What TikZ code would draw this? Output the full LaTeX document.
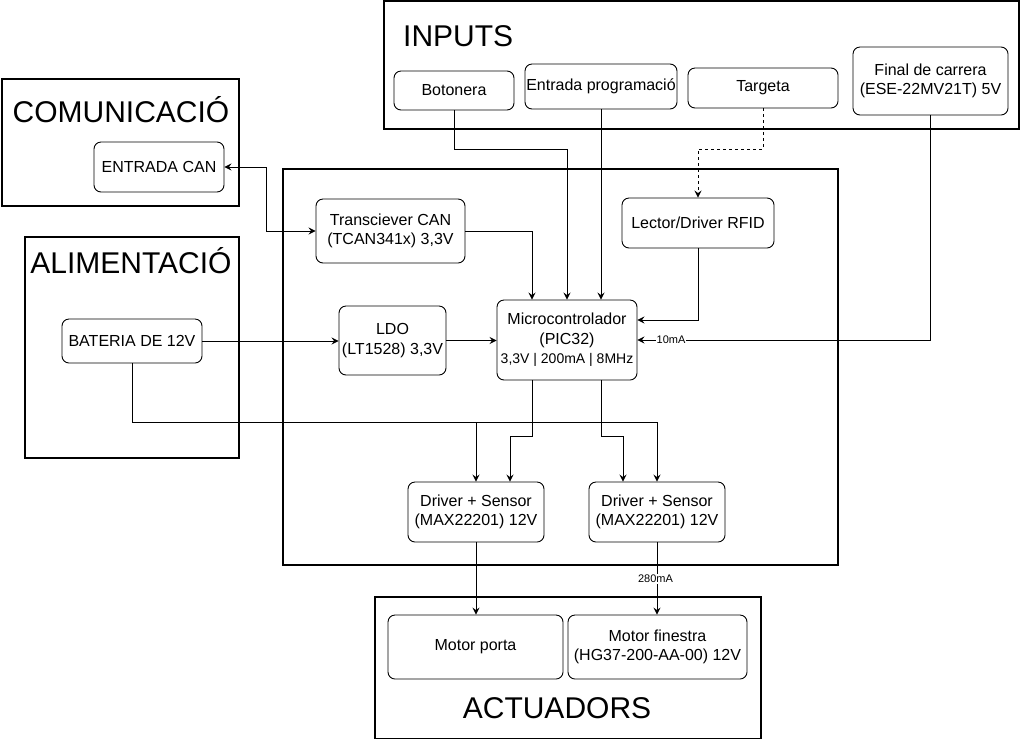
\documentclass[tikz,border=0pt]{standalone}
\usepackage{fontspec}
\setmainfont{Liberation Sans}
\usetikzlibrary{arrows.meta}
\newcommand\fsNode{\fontsize{16}{19.5}\selectfont}
\newcommand\fsSmall{\fontsize{14}{19}\selectfont}
\newcommand\fsTitle{\fontsize{30}{36}\selectfont}
\newcommand\fsLbl{\fontsize{11}{12}\selectfont}
\begin{document}
\begin{tikzpicture}[x=1pt,y=-1pt,
  box/.style={draw, line width=0.9pt, rounded corners=7pt, fill=white, align=center, inner sep=0pt, font=\fsNode},
  container/.style={draw, line width=1.8pt},
  title/.style={inner sep=0pt, font=\fsTitle},
  conn/.style={draw, line width=0.9pt, -{Stealth[length=7pt,width=7pt,inset=2.5pt]}},
  conn2/.style={draw, line width=0.9pt, {Stealth[length=7pt,width=7pt,inset=2.5pt]}-{Stealth[length=7pt,width=7pt,inset=2.5pt]}},
  lbl/.style={fill=white, inner sep=1pt, font=\fsLbl}]
\useasboundingbox (0,0) rectangle (1022,740);
\fill[white] (0,0) rectangle (1022,740);

% containers
\draw[container] (384,1) rectangle (1019,129);
\draw[container] (2,79) rectangle (239,206);
\draw[container] (25,237) rectangle (239,458);
\draw[container] (283,169) rectangle (838,565);
\draw[container] (375,597) rectangle (761,738.5);

% titles
\node[title, anchor=base west] (tin) at (403,46) {INPUTS};
\node[title, anchor=base] (tcom) at (121,122) {COMUNICACIÓ};
\node[title, anchor=base] (talim) at (131,273) {ALIMENTACIÓ};
\node[title, anchor=base] (tact) at (557,718) {ACTUADORS};

% nodes
\node[box, minimum width=120, minimum height=39] (botonera) at (454,90.5) {Botonera};
\node[box, minimum width=152, minimum height=45] (entrada) at (601,86.5) {Entrada programació};
\node[box, minimum width=150, minimum height=40] (targeta) at (763,88) {Targeta};
\node[box, minimum width=155, minimum height=68] (final) at (930.5,81) {Final de carrera\\(ESE-22MV21T) 5V};
\node[box, minimum width=130, minimum height=50] (entradacan) at (159,167) {ENTRADA CAN};
\node[box, minimum width=140, minimum height=44] (bateria) at (132,341) {BATERIA DE 12V};
\node[box, minimum width=149, minimum height=64] (trans) at (390.5,231) {Transciever CAN\\(TCAN341x) 3,3V};
\node[box, minimum width=152, minimum height=50] (rfid) at (698,223) {Lector/Driver RFID};
\node[box, minimum width=107, minimum height=69] (ldo) at (392.5,340.5) {LDO\\(LT1528) 3,3V};
\node[box, minimum width=140, minimum height=80] (micro) at (567,340) {Microcontrolador\\(PIC32)\\{\fsSmall 3,3V | 200mA | 8MHz}};
\node[box, minimum width=136, minimum height=60] (drv1) at (476,512) {Driver + Sensor\\(MAX22201) 12V};
\node[box, minimum width=136, minimum height=60] (drv2) at (657,512) {Driver + Sensor\\(MAX22201) 12V};
\node[box, minimum width=175, minimum height=64] (mporta) at (475.5,647) {Motor porta};
\node[box, minimum width=179, minimum height=64] (mfin) at (657.5,647) {Motor finestra\\(HG37-200-AA-00) 12V};

% connectors
\draw[conn] (botonera.south) -- (botonera.south |- 0,149) -| (micro.north);
\draw[conn] (entrada.south) -- (entrada.south |- micro.north);
\draw[conn, dashed] (targeta.south) -- (targeta.south |- 0,149) -| (rfid.north);
\draw[conn] (final.south) |- (micro.east);
\node[lbl] (l10) at (671,340) {10mA};
\draw[conn] (rfid.south) |- (micro.east |- 0,320);
\draw[conn] (trans.east) -| ([xshift=-35pt]micro.north);
\draw[conn2] (entradacan.east) -- ++(42,0) |- (trans.west);
\draw[conn] (ldo.east) -- (ldo.east -| micro.west);
\draw[conn] (bateria.east) -- (bateria.east -| ldo.west);
\draw[conn] (bateria.south) -- (bateria.south |- 0,422) -| (drv2.north);
\draw[conn] (bateria.south |- 0,422) -| (drv1.north);
\draw[conn] ([xshift=-35pt]micro.south) -- ++(0,56) -| ([xshift=34pt]drv1.north);
\draw[conn] ([xshift=34pt]micro.south) -- ++(0,56) -| ([xshift=-34pt]drv2.north);
\draw[conn] (drv1.south) -- (drv1.south |- mporta.north);
\draw[conn] (drv2.south) -- (drv2.south |- mfin.north);
\node[lbl] (l280) at (655.5,579) {280mA};
\end{tikzpicture}
\end{document}
